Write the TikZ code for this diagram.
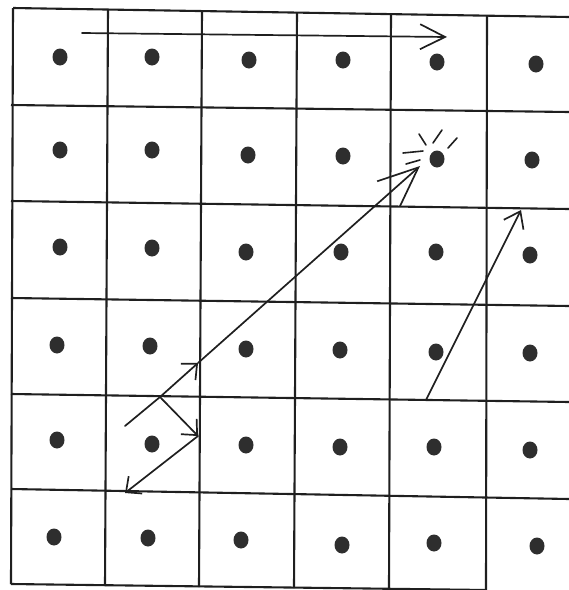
\documentclass[tikz,border=0pt]{standalone}
\usetikzlibrary{arrows.meta}
\begin{document}
\begin{tikzpicture}[x=1pt,y=-1pt,
  gridline/.style={line width=2.1pt,black!88},
  ray/.style={line width=1.6pt,black!88,line cap=round},
  dotmark/.style={fill=black!82},
  bigtip/.style={-{Straight Barb[length=25pt,width=25pt,line width=1.7pt]}},
  midtip/.style={-{Straight Barb[length=12pt,width=22pt,line width=1.7pt]}},
  hittip/.style={-{Straight Barb[length=40pt,width=34pt,line width=1.7pt]}},
  beam/.style={line width=1.7pt,black!88,line cap=round}]
\useasboundingbox (0,0) rectangle (569,590);
% vertical grid lines
\draw[gridline] (13,8) -- (11,584);
\draw[gridline] (108,9) -- (105,586);
\draw[gridline] (202,11) -- (199,587);
\draw[gridline] (297,12) -- (294,588);
\draw[gridline] (391,13) -- (389,589);
\draw[gridline] (487,15) -- (486,590);
% horizontal grid lines
\draw[gridline] (13,8) -- (569,17);
\draw[gridline] (11,105) -- (569,112);
\draw[gridline] (11,201) -- (569,209);
\draw[gridline] (11,298) -- (569,306);
\draw[gridline] (11,394) -- (569,402);
\draw[gridline] (11,489) -- (569,499);
\draw[gridline] (11,584) -- (486,590);
% dots
\foreach \x/\y in {60/57,152/57,249/60,343/60,437/62,536/64,
                   60/150,152/150,248/155,343/156,437/159,532/160,
                   60/247,152/248,246/252,341/252,436/252,530/255,
                   57/345,150/346,246/349,340/350,436/352,530/353,
                   57/440,152/444,246/445,340/447,434/447,530/450,
                   54/537,148/538,241/540,342/545,434/543,537/546}
  \fill[dotmark] (\x,\y) ellipse (7.5 and 8.5);
% named points of the beams
\coordinate (t0) at (82,33);
\coordinate (t1) at (447,37);
\coordinate (a0) at (125,426);
\coordinate (j) at (160,397);
\coordinate (m1) at (198,363);
\coordinate (hit) at (420,166);
\coordinate (r1) at (198,436);
\coordinate (r2) at (125,493);
\coordinate (b0) at (426,400);
\coordinate (b1) at (521,210);
% top arrow
\draw[beam,bigtip] (t0) -- (t1);
% long beam
\draw[beam] (a0) -- (j);
\draw[beam,midtip] (j) -- (m1);
\draw[beam,hittip] (m1) -- (hit);
% reflected beam
\draw[beam,midtip] (j) -- (r1);
\draw[beam,midtip] (r1) -- (r2);
% right arrow
\draw[beam,-{Straight Barb[length=15pt,width=22pt,line width=1.7pt]}] (b0) -- (b1);
% sparks at the hit dot
\draw[ray] (419,134) -- (426,145);
\draw[ray] (433,143) -- (442,130);
\draw[ray] (448,148) -- (457,138);
\draw[ray] (403,153) -- (423,151);
\draw[ray] (406,164) -- (420,160);
\end{tikzpicture}
\end{document}
